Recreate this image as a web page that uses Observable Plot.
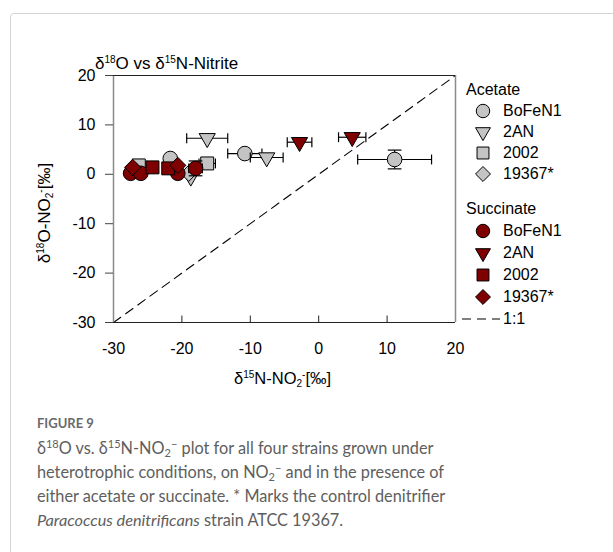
<!DOCTYPE html>
<html>
<head>
<meta charset="utf-8">
<script src="https://cdn.jsdelivr.net/npm/d3@7"></script>
<script src="https://cdn.jsdelivr.net/npm/@observablehq/plot@0.6"></script>
<style>
  html, body { margin: 0; padding: 0; background: #fff; }
  body { width: 613px; height: 552px; position: relative; overflow: hidden; font-family: "Liberation Sans", Arial, sans-serif; }
  .card { position: absolute; left: 10px; top: 13px; width: 700px; height: 700px; border: 1px solid #d4d4d4; border-radius: 4px; }
  .abs { position: absolute; white-space: nowrap; }
  .title { left: 95px; top: 54px; font-size: 17px; color: #000; }
  .xlab { left: 234px; top: 369px; font-size: 16.5px; }
  .ylab { left: 45px; top: 213px; font-size: 17px; transform: translate(-50%, -50%) rotate(-90deg); transform-origin: center; }
  sup, sub { font-size: 10px; line-height: 0; }
  sup { vertical-align: 6px; }
  sub { vertical-align: -3px; }
  .legend { left: 466px; top: 80px; font-size: 16px; }
  .legend .row { position: absolute; white-space: nowrap; height: 20px; line-height: 20px; }
  .legend svg { position: absolute; }
  .fig { left: 37px; top: 415px; font-family: Lato, "Open Sans", sans-serif; font-weight: 700; font-size: 13px; color: #6a6a6a; }
  .cap { left: 37px; top: 436px; font-family: Lato, "Open Sans", sans-serif; font-size: 16.3px; line-height: 24px; color: #5e5e5e; }
  .cap sup, .cap sub { font-size: 11px; }
</style>
</head>
<body>
<div class="card"></div>
<div id="chart" class="abs" style="left:0;top:0"></div>
<div class="abs title">δ<sup>18</sup>O vs δ<sup>15</sup>N-Nitrite</div>
<div class="abs xlab">δ<sup>15</sup>N-NO<sub>2</sub><sup>-</sup>[‰]</div>
<div class="abs ylab">δ<sup>18</sup>O-NO<sub>2</sub><sup>-</sup>[‰]</div>
<div id="legend" class="abs legend"></div>
<div class="abs fig">FIGURE 9</div>
<div class="abs cap">δ<sup>18</sup>O vs. δ<sup>15</sup>N-NO<sub>2</sub><sup>−</sup> plot for all four strains grown under<br>heterotrophic conditions, on NO<sub>2</sub><sup>−</sup> and in the presence of<br>either acetate or succinate. * Marks the control denitrifier<br><i>Paracoccus denitrificans</i> strain ATCC 19367.</div>
<script>
// ---- data ----
const xTicks = [-30, -20, -10, 0, 10, 20];
const yTicks = [-30, -20, -10, 0, 10, 20];
const oneToOne = [-30, 20];

const acetateBoFeN1 = [
  {x: -21.7, y: 3.2, xe: 0, ye: 0},
  {x: -10.8, y: 4.2, xe: 2.5, ye: 0},
  {x: 11.1, y: 3.0, xe: 5.4, ye: 1.9}
];
const acetate2AN = [
  {x: -16.3, y: 7.3, xe: 3.0, ye: 0},
  {x: -7.6, y: 3.4, xe: 2.4, ye: 0},
  {x: -18.7, y: -0.5, xe: 0, ye: 0}
];
const acetate2002 = [
  {x: -26.3, y: 1.8, xe: 0, ye: 0},
  {x: -16.3, y: 2.2, xe: 1.2, ye: 0}
];
const acetate19367 = [
  {x: -19.0, y: 0.2, xe: 0, ye: 0},
  {x: -26.8, y: 0.8, xe: 0, ye: 0}
];
const succinateBoFeN1 = [
  {x: -27.5, y: 0.2, xe: 0, ye: 0},
  {x: -26.0, y: 0.2, xe: 0, ye: 0},
  {x: -20.6, y: 0.2, xe: 0, ye: 0},
  {x: -18.0, y: 1.2, xe: 1.0, ye: 1.5}
];
const succinate2AN = [
  {x: -2.8, y: 6.5, xe: 1.8, ye: 0},
  {x: 4.9, y: 7.5, xe: 2.0, ye: 0}
];
const succinate2002 = [
  {x: -24.3, y: 1.4, xe: 0, ye: 0},
  {x: -22.0, y: 1.2, xe: 0, ye: 0}
];
const succinate19367 = [
  {x: -27.2, y: 1.4, xe: 0, ye: 0},
  {x: -20.6, y: 1.8, xe: 0, ye: 0}
];

const strainNames = ["BoFeN1", "2AN", "2002", "19367*"];
const groupNames = ["Acetate", "Succinate"];
const groupColors = ["#c4c4c4", "#7f0000"];
const strainSymbols = ["circle", "triangle", "square", "diamond2"];
const strainRotate = [0, 180, 0, 0];
const strainR = [7.3, 6, 7.3, 7.3];
const groups = [
  [acetateBoFeN1, acetate2AN, acetate2002, acetate19367],
  [succinateBoFeN1, succinate2AN, succinate2002, succinate19367]
];

// ---- chart ----
const capX = 1.0;  // cap half-height in y units for horizontal error bars
const capY = 1.0;  // cap half-width in x units for vertical error bars
const marks = [];
marks.push(Plot.line(oneToOne, {x: d => d, y: d => d, stroke: "#000", strokeWidth: 1.1, strokeDasharray: "9,6"}));
groups.forEach((series, gi) => {
  series.forEach((data, si) => {
    const hx = data.filter(d => d.xe > 0);
    const vy = data.filter(d => d.ye > 0);
    marks.push(Plot.link(hx, {x1: d => d.x - d.xe, x2: d => d.x + d.xe, y1: "y", y2: "y", stroke: "#000", strokeWidth: 1.2}));
    marks.push(Plot.link(hx, {x1: d => d.x - d.xe, x2: d => d.x - d.xe, y1: d => d.y - capX, y2: d => d.y + capX, stroke: "#000", strokeWidth: 1.2}));
    marks.push(Plot.link(hx, {x1: d => d.x + d.xe, x2: d => d.x + d.xe, y1: d => d.y - capX, y2: d => d.y + capX, stroke: "#000", strokeWidth: 1.2}));
    marks.push(Plot.link(vy, {x1: "x", x2: "x", y1: d => d.y - d.ye, y2: d => d.y + d.ye, stroke: "#000", strokeWidth: 1.2}));
    marks.push(Plot.link(vy, {x1: d => d.x - capY, x2: d => d.x + capY, y1: d => d.y - d.ye, y2: d => d.y - d.ye, stroke: "#000", strokeWidth: 1.2}));
    marks.push(Plot.link(vy, {x1: d => d.x - capY, x2: d => d.x + capY, y1: d => d.y + d.ye, y2: d => d.y + d.ye, stroke: "#000", strokeWidth: 1.2}));
    marks.push(Plot.dot(data, {x: "x", y: "y", symbol: strainSymbols[si], r: strainR[si], rotate: strainRotate[si], fill: groupColors[gi], fillOpacity: 1, stroke: "#000", strokeWidth: 1}));
  });
});
// frame
marks.push(Plot.ruleX([xTicks[0], xTicks[xTicks.length - 1]], {stroke: "#8a8a8a", strokeWidth: 1.5}));
marks.push(Plot.ruleY([yTicks[0], yTicks[yTicks.length - 1]], {stroke: "#222", strokeWidth: 1.2}));
// inward ticks on bottom
marks.push(Plot.ruleX(xTicks.slice(1, -1), {y1: yTicks[0], y2: yTicks[0] + 1.3, stroke: "#222", strokeWidth: 1}));
// axes
marks.push(Plot.axisY(yTicks, {tickSize: 8, tickPadding: 10, tickFormat: d => String(d), label: null, fontSize: 16, stroke: "#444"}));
marks.push(Plot.axisX(xTicks, {tickSize: 0, tickPadding: 20, tickFormat: d => String(d), label: null, fontSize: 16}));

const chart = Plot.plot({
  width: 470,
  height: 400,
  marginLeft: 113,
  marginRight: 15,
  marginTop: 75,
  marginBottom: 78,
  x: {domain: [-30, 20]},
  y: {domain: [-30, 20]},
  style: {fontFamily: "Liberation Sans, Arial, sans-serif", fontSize: "16px", color: "#000", background: "transparent", overflow: "visible"},
  marks
});
document.getElementById("chart").appendChild(chart);

// ---- legend ----
const legend = document.getElementById("legend");
const symbolTypes = {circle: d3.symbolCircle, triangle: d3.symbolTriangle, square: d3.symbolSquare, diamond2: d3.symbolDiamond2};
const groupTop = [0, 119];
const rowH = [21, 22];
const symX = 17, labX = 37;
let yy = 0;
groupNames.forEach((g, gi) => {
  yy = groupTop[gi];
  const head = document.createElement("div");
  head.className = "row"; head.style.left = "0px"; head.style.top = yy + "px"; head.textContent = g;
  legend.appendChild(head);
  yy += rowH[gi];
  strainNames.forEach((s, si) => {
    const sym = d3.symbol(symbolTypes[strainSymbols[si]], Math.PI * strainR[si] * strainR[si] * 0.85)();
    const svg = d3.create("svg").attr("width", 24).attr("height", 24)
      .style("left", (symX - 12) + "px").style("top", (yy - 2) + "px");
    svg.append("path").attr("d", sym)
      .attr("transform", `translate(12,12) rotate(${strainRotate[si]})`)
      .attr("fill", groupColors[gi]).attr("stroke", "#000").attr("stroke-width", 1);
    legend.appendChild(svg.node());
    const lab = document.createElement("div");
    lab.className = "row"; lab.style.left = labX + "px"; lab.style.top = yy + "px"; lab.textContent = s;
    legend.appendChild(lab);
    yy += rowH[gi];
  });
});
const dsvg = d3.create("svg").attr("width", 40).attr("height", 20).style("left", "-4px").style("top", yy + "px");
dsvg.append("line").attr("x1", 0).attr("x2", 38).attr("y1", 10).attr("y2", 10).attr("stroke", "#000").attr("stroke-width", 1.1).attr("stroke-dasharray", "9,6");
legend.appendChild(dsvg.node());
const dl = document.createElement("div");
dl.className = "row"; dl.style.left = labX + "px"; dl.style.top = yy + "px"; dl.textContent = "1:1";
legend.appendChild(dl);
</script>
</body>
</html>
